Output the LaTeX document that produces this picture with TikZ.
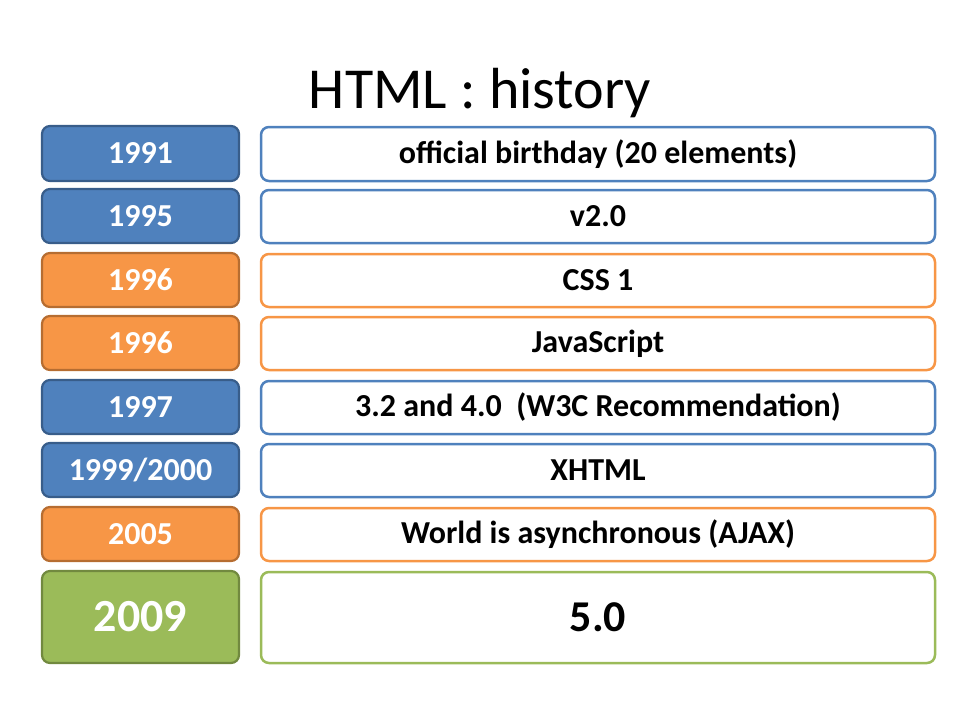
\documentclass[tikz,border=0pt]{standalone}
\usepackage{fontspec}
\setmainfont{Carlito}
\definecolor{bfill}{HTML}{4F81BD}
\definecolor{bdraw}{HTML}{385D8A}
\definecolor{ofill}{HTML}{F79646}
\definecolor{odraw}{HTML}{B66D31}
\definecolor{gfill}{HTML}{9BBB59}
\definecolor{gdraw}{HTML}{71893F}
\begin{document}
\begin{tikzpicture}[x=1pt,y=-1pt,
  yearbox/.style={draw=#1draw,fill=#1fill,line width=2.2pt,rounded corners=8pt},
  evbox/.style={draw=#1fill,fill=white,line width=2.5pt,rounded corners=8pt},
  yeartext/.style={text=white,font=\bfseries\fontsize{#1}{#1}\selectfont},
  evtext/.style={text=black,font=\bfseries\fontsize{#1}{#1}\selectfont}]
\useasboundingbox (0,0) rectangle (960,720);
\node[font=\fontsize{58}{64}\selectfont] (title) at (480,93) {HTML : history};
\newcommand\rowbox[6]{%
  \draw[yearbox=#1] (42,#2) rectangle (239,#3);
  \node[yeartext=#6] (y#4) at (140.5,{(#2+#3)/2}) {#5};
}
\newcommand\evrow[7]{%
  \draw[evbox=#1] (261,#2) rectangle (935,#3);
  \node[evtext=#6] (e#4) at (598,{(#2+#3)/2}) {#5};
}
\rowbox{b}{126}{181}{a}{1991}{32}
\rowbox{b}{189}{243}{b}{1995}{32}
\rowbox{o}{253}{307}{c}{1996}{32}
\rowbox{o}{316}{370}{d}{1996}{32}
\rowbox{b}{380}{434}{e}{1997}{32}
\rowbox{b}{443}{497}{f}{1999/2000}{32}
\rowbox{o}{507}{561}{g}{2005}{32}
\rowbox{g}{571}{663}{h}{2009}{46}
\draw[evbox=b] (261,127) rectangle (935,181);
\node[evtext=32] (ea) at (598,154) {official birthday (20 elements)};
\draw[evbox=b] (261,190) rectangle (935,243);
\node[evtext=32] (eb) at (598,216.5) {v2.0};
\draw[evbox=o] (261,254) rectangle (935,307);
\node[evtext=32] (ec) at (598,280.5) {CSS 1};
\draw[evbox=o] (261,317) rectangle (935,370);
\node[evtext=32] (ed) at (598,343.5) {JavaScript};
\draw[evbox=b] (261,381) rectangle (935,434);
\node[evtext=32] (ee) at (598,407.5) {3.2 and 4.0\ \ (W3C Recommendation)};
\draw[evbox=b] (261,444) rectangle (935,497);
\node[evtext=32] (ef) at (598,470.5) {XHTML};
\draw[evbox=o] (261,508) rectangle (935,561);
\node[evtext=32] (eg) at (598,534.5) {World is asynchronous (AJAX)};
\draw[evbox=g] (261,572) rectangle (935,663);
\node[evtext=44] (eh) at (598,617.5) {5.0};
\end{tikzpicture}
\end{document}
